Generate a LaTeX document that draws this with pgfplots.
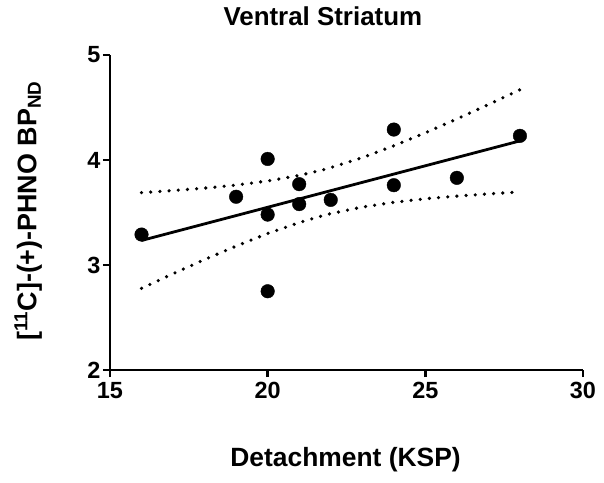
\documentclass[border=0pt]{standalone}
\usepackage{pgfplots}
\pgfplotsset{compat=1.18}
\usepackage{fontspec}
\setmainfont{Liberation Sans}
\begin{document}
\begin{tikzpicture}
\path[use as bounding box] (-110bp,-113bp) rectangle (494bp,370bp);
\begin{axis}[
  at={(0,0)}, anchor=south west,
  scale only axis, width=473bp, height=315bp,
  xmin=15, xmax=30, ymin=2, ymax=5,
  xtick={15,20,25,30}, ytick={2,3,4,5},
  axis x line=bottom, axis y line=left,
  axis line style={line width=2.4bp, -},
  every tick/.style={line width=2.4bp, black},
  tick align=outside, major tick length=7bp,
  xticklabel={\textbf{\pgfmathprintnumber[assume math mode=true]{\tick}}},
  yticklabel={\textbf{\pgfmathprintnumber[assume math mode=true]{\tick}}},
  tick label style={font=\fontsize{23.5}{27}\selectfont\bfseries},
  xticklabel style={yshift=-2bp},
  yticklabel style={xshift=1bp},
  title={Ventral Striatum},
  title style={font=\fontsize{26}{30}\selectfont\bfseries, at={(axis description cs:0.45,1.105)}, anchor=center},
  xlabel={Detachment (KSP)},
  xlabel style={font=\fontsize{26.5}{31}\selectfont\bfseries, at={(axis description cs:0.498,-0.286)}, anchor=center},
  ylabel={[\textsuperscript{11}C]-(+)-PHNO BP\textsubscript{ND}},
  ylabel style={font=\fontsize{27}{31}\selectfont\bfseries, at={(axis description cs:-0.173,0.505)}, anchor=center, rotate=0},
  clip=false,
]
% confidence bands
\addplot[line width=3.6bp, dash pattern=on 0bp off 9.2bp, line cap=round, black] coordinates {
(16,3.689) (17,3.709) (18,3.732) (19,3.761) (20,3.800) (21,3.853) (21.75,3.906) (22,3.927) (23,4.022) (24,4.135) (25,4.259) (26,4.391) (27,4.528) (28,4.669)};
\addplot[line width=3.6bp, dash pattern=on 0bp off 9.2bp, line cap=round, black] coordinates {
(16,2.778) (17,2.917) (18,3.052) (19,3.180) (20,3.300) (21,3.404) (21.75,3.470) (22,3.489) (23,3.552) (24,3.597) (25,3.631) (26,3.656) (27,3.677) (28,3.696)};
% regression line
\addplot[line width=2.8bp, black] coordinates {(16,3.2336) (28,4.182)};
% data
\addplot[only marks, mark=*, mark size=6.8bp, black] coordinates {
(16,3.29) (19,3.65) (20,4.01) (20,3.48) (20,2.75) (21,3.77) (21,3.58) (22,3.62) (24,4.29) (24,3.76) (26,3.83) (28,4.23)};
\end{axis}
\end{tikzpicture}
\end{document}
